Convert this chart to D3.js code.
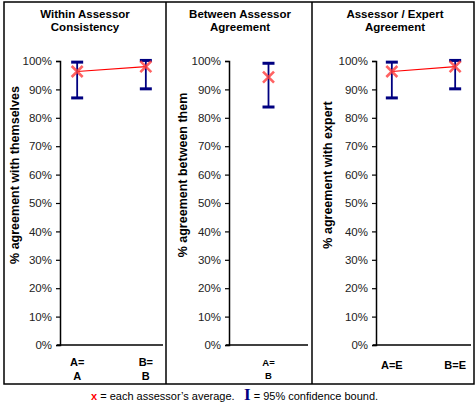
<!DOCTYPE html>
<html>
<head>
<meta charset="utf-8">
<script src="https://cdn.jsdelivr.net/npm/d3@7"></script>
<style>
  body { margin: 0; background: #fff; }
  text { font-family: "Liberation Sans", Arial, sans-serif; }
</style>
</head>
<body>
<script>
// chart data
const panelTitles = [["Within Assessor", "Consistency"], ["Between Assessor", "Agreement"], ["Assessor / Expert", "Agreement"]];
const yTitles = ["% agreement with themselves", "% agreement between them", "% agreement with expert"];
const yTicks = [0, 10, 20, 30, 40, 50, 60, 70, 80, 90, 100];

const withinCats = [["A=", "A"], ["B=", "B"]];
const withinMean = [96.3, 98.0];
const withinLow = [87.0, 90.2];
const withinHigh = [99.6, 100.2];

const betweenCats = [["A=", "B"]];
const betweenMean = [94.3];
const betweenLow = [83.8];
const betweenHigh = [99.2];

const expertCats = [["A=E"], ["B=E"]];
const expertMean = [96.3, 98.0];
const expertLow = [87.0, 90.2];
const expertHigh = [99.6, 100.2];

const w = 475;
const h = 412;

const svg = d3.select("body")
  .append("svg")
  .attr("width", w)
  .attr("height", h);

const y = d3.scaleLinear().domain([0, 100]).range([345, 61]);

// layout of each panel
const panels = [
  { left: 4, right: 166, ax: 60, axEnd: 163, titleX: 85, yTitleX: 19, catSize: 11,
    cats: withinCats, mean: withinMean, low: withinLow, high: withinHigh },
  { left: 166, right: 312, ax: 229, axEnd: 308, titleX: 240, yTitleX: 187, catSize: 9.5,
    cats: betweenCats, mean: betweenMean, low: betweenLow, high: betweenHigh },
  { left: 312, right: 474, ax: 376, axEnd: 471, titleX: 395, yTitleX: 332, catSize: 11,
    cats: expertCats, mean: expertMean, low: expertLow, high: expertHigh }
];

// outer box and dividers
svg.append("rect")
  .attr("x", 4).attr("y", 2)
  .attr("width", 470).attr("height", 382)
  .attr("fill", "none").attr("stroke", "#000").attr("stroke-width", 1.5);

panels.forEach((p, pi) => {
  const g = svg.append("g");

  if (pi > 0) {
    g.append("line")
      .attr("x1", p.left).attr("x2", p.left)
      .attr("y1", 2).attr("y2", 384)
      .attr("stroke", "#000").attr("stroke-width", 1.5);
  }

  // title
  g.selectAll("text.title")
    .data(panelTitles[pi])
    .enter()
    .append("text")
    .attr("class", "title")
    .attr("x", p.titleX)
    .attr("y", (d, i) => 18 + i * 13)
    .attr("text-anchor", "middle")
    .attr("font-size", 11.5)
    .attr("font-weight", "bold")
    .text(d => d);

  // y axis title
  g.append("text")
    .attr("transform", `translate(${p.yTitleX},175) rotate(-90)`)
    .attr("text-anchor", "middle")
    .attr("font-size", 12.5)
    .attr("font-weight", "bold")
    .text(yTitles[pi]);

  const x = d3.scalePoint()
    .domain(p.cats.map(c => c.join("")))
    .range([p.ax, p.axEnd])
    .padding(p.cats.length > 1 ? 0.25 : 0.5);

  // y axis
  const yAxis = g.append("g")
    .attr("transform", `translate(${p.ax},0)`)
    .call(d3.axisLeft(y).tickValues(yTicks).tickSize(4).tickPadding(4).tickFormat(d => d + "%"));
  yAxis.select(".domain").attr("stroke-width", 1.5);
  yAxis.selectAll(".tick line").attr("stroke-width", 1.2);
  yAxis.selectAll(".tick text")
    .attr("font-size", 11.5)
    .attr("font-family", "Liberation Sans, Arial, sans-serif")
    .attr("fill", "#222");

  // x axis baseline
  g.append("line")
    .attr("x1", p.ax - 3).attr("x2", p.axEnd)
    .attr("y1", y(0)).attr("y2", y(0))
    .attr("stroke", "#000").attr("stroke-width", 1.5);

  // category labels
  p.cats.forEach(c => {
    const t = g.append("text")
      .attr("text-anchor", "middle")
      .attr("font-size", p.catSize)
      .attr("font-weight", "bold");
    if (c.length === 1) {
      t.attr("x", x(c.join(""))).attr("y", 369).text(c[0]);
    } else {
      t.selectAll("tspan")
        .data(c)
        .enter()
        .append("tspan")
        .attr("x", x(c.join("")))
        .attr("y", (d, i) => 366 + i * (p.catSize + 3))
        .text(d => d);
    }
  });

  const keys = p.cats.map(c => c.join(""));
  const cap = 6;

  // error bars
  const eb = g.selectAll("g.eb")
    .data(keys)
    .enter()
    .append("g")
    .attr("class", "eb");
  eb.append("line")
    .attr("x1", d => x(d)).attr("x2", d => x(d))
    .attr("y1", (d, i) => y(p.low[i])).attr("y2", (d, i) => y(p.high[i]))
    .attr("stroke", "#000080").attr("stroke-width", 1.8);
  eb.append("line")
    .attr("x1", d => x(d) - cap).attr("x2", d => x(d) + cap)
    .attr("y1", (d, i) => y(p.high[i])).attr("y2", (d, i) => y(p.high[i]))
    .attr("stroke", "#000080").attr("stroke-width", 3);
  eb.append("line")
    .attr("x1", d => x(d) - cap).attr("x2", d => x(d) + cap)
    .attr("y1", (d, i) => y(p.low[i])).attr("y2", (d, i) => y(p.low[i]))
    .attr("stroke", "#000080").attr("stroke-width", 3);

  // mean line
  if (keys.length > 1) {
    g.append("path")
      .datum(keys)
      .attr("fill", "none")
      .attr("stroke", "#ff0000")
      .attr("stroke-width", 1.2)
      .attr("d", d3.line().x(d => x(d)).y((d, i) => y(p.mean[i])));
  }

  // mean markers
  const m = 5.5;
  const mk = g.selectAll("g.mk")
    .data(keys)
    .enter()
    .append("g")
    .attr("class", "mk")
    .attr("transform", (d, i) => `translate(${x(d)},${y(p.mean[i])})`);
  mk.append("path")
    .attr("d", `M${-m},${-m}L${m},${m}M${-m},${m}L${m},${-m}`)
    .attr("stroke", "#ff3b3b")
    .attr("stroke-opacity", 0.8)
    .attr("stroke-width", 2.6);
});

// footer legend
const foot = svg.append("text")
  .attr("x", 91)
  .attr("y", 400)
  .attr("font-size", 11);
foot.append("tspan").attr("fill", "#ff0000").attr("font-weight", "bold").text("x");
foot.append("tspan").text(" = each assessor\u2019s average.");

const foot2 = svg.append("text")
  .attr("x", 244)
  .attr("y", 400)
  .attr("font-size", 11);
foot2.append("tspan")
  .attr("fill", "#000080")
  .attr("font-weight", "bold")
  .attr("font-size", 17)
  .attr("font-family", "Liberation Serif, serif")
  .text("I");
foot2.append("tspan").text(" = 95% confidence bound.");
</script>
</body>
</html>
